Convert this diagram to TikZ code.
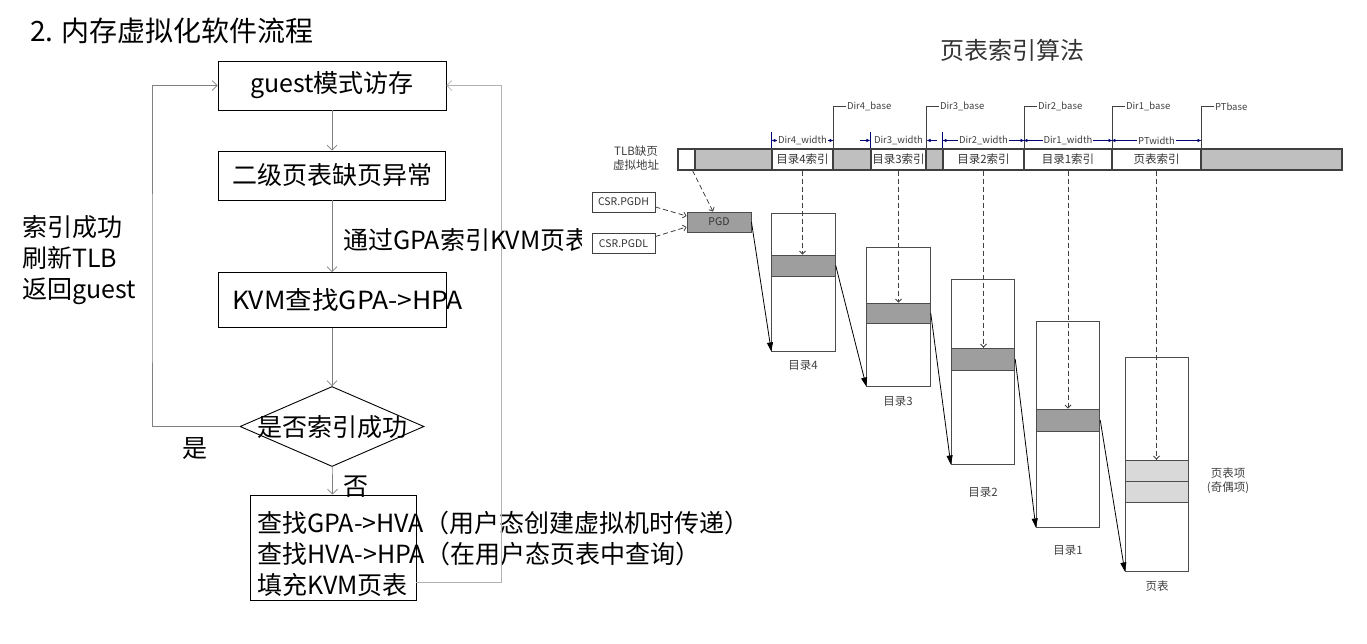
\documentclass[tikz,border=0pt]{standalone}
\usepackage{fontspec}
\setmainfont{Noto Sans CJK SC}
\usetikzlibrary{arrows.meta,positioning,shapes.geometric}

\begin{document}
\begin{tikzpicture}[x=1pt,y=-1pt,
  fbox/.style={draw,line width=.9pt,inner sep=0pt,font=\fontsize{25}{30}\selectfont},
  ftxt/.style={inner sep=0pt,font=\fontsize{25}{31}\selectfont},
  fa/.style={-{Straight Barb[length=5pt,width=10pt]},draw=black!50,line width=.7pt},
  cell/.style={draw=black!75,line width=1.1pt,minimum height=21pt,inner sep=0pt,text=black!80,font=\fontsize{11.5}{13}\selectfont},
  base/.style={draw=black!75,line width=1pt},
  sm/.style={text=black!75,inner sep=1pt,font=\fontsize{9.5}{11}\selectfont},
  wid/.style={{Latex[length=4pt,width=3.5pt]}-{Latex[length=4pt,width=3.5pt]},draw=blue!45!black,line width=.6pt},
  wone/.style={-{Latex[length=4pt,width=3.5pt]},draw=blue!45!black,line width=.6pt},
  tick/.style={draw=blue!45!black,line width=.6pt},
  tbl/.style={draw=black!70,line width=.9pt,minimum width=63.5pt,inner sep=0pt},
  ent/.style={tbl,fill=black!38},
  csr/.style={draw=black!75,line width=.8pt,minimum width=63pt,minimum height=20pt,inner sep=0pt,text=black!80,font=\fontsize{10.5}{12}\selectfont},
  dsh/.style={-{Straight Barb[length=3pt,width=6pt]},draw=black!75,line width=.8pt,dash pattern=on 5pt off 3pt},
  ptr/.style={-{Triangle[length=9pt,width=6pt]},draw=black,line width=.8pt},
  lbl/.style={text=black!75,inner sep=0pt,font=\fontsize{11.5}{14}\selectfont}]
\useasboundingbox (0,0) rectangle (1367,643);

% flow on the left
\node[ftxt,anchor=west,font=\fontsize{28}{34}\selectfont] (title) at (30,31) {2. 内存虚拟化软件流程};
\node[fbox,minimum width=228pt,minimum height=49pt] (access) at (332,85.5) {guest模式访存};
\node[fbox,minimum width=227pt,minimum height=49pt] (fault) at (332,175.5) {二级页表缺页异常};
\node[fbox,minimum width=228pt,minimum height=55pt] (kvm) at (332,300) {};
\node[ftxt,anchor=west,xscale=1.06] (kvmtxt) at (232,300) {KVM查找GPA->HPA};
\node[draw,diamond,line width=.9pt,minimum width=184pt,minimum height=80pt,inner sep=0pt] (hit) at (332,426.5) {};
\node[ftxt] (hittxt) at (332,427) {是否索引成功};
\node[fbox,minimum width=166pt,minimum height=105pt] (fill) at (333,547.5) {};
\node[ftxt,anchor=west,align=left] (filltxt) at (257,554) {查找GPA->HVA（用户态创建虚拟机时传递）\\查找HVA->HPA（在用户态页表中查询）\\填充KVM页表};
\draw[fa] (access) -- (fault);
\draw[fa] (fault) -- (kvm);
\draw[fa] (kvm) -- (hit);
\draw[fa] (hit) -- (fill);
\coordinate (lft) at (152,300);
\draw[fa] (hit.west) -| (lft) |- (access.west);
\coordinate (rgt) at (501,582);
\draw[fa,draw=black!30] (fill.east |- rgt) -- (rgt) |- (access.east);
\node[ftxt] (yes) at (195,449) {是};
\node[ftxt] (no) at (356,487) {否};
\node[ftxt,anchor=west,align=left] (ok) at (22,260) {索引成功\\刷新TLB\\返回guest};
\begin{scope}
\clip (0,0) rectangle (581,643);
\node[ftxt,anchor=west] (via) at (343,240) {通过GPA索引KVM页表};
\end{scope}

% page table walk on the right
\node[ftxt,text=black!80,font=\fontsize{24}{28}\selectfont] (algo) at (1012,50) {页表索引算法};
\foreach \n/\xa/\xb/\f/\t in {v0/678/695/white/{},g1/695/772/black!25/{},c4/772/833/white/目录4索引,g2/833/871/black!25/{},c3/871/926/white/目录3索引,g3/926/943/black!25/{},c2/943/1024/white/目录2索引,c1/1024/1112/white/目录1索引,cp/1112/1201/white/页表索引,g4/1201/1342/black!25/{}}
  \node[cell,fill=\f,minimum width=\xb-\xa] (\n) at ({(\xa+\xb)/2},159.5) {\t};
\foreach \n/\t in {c4/Dir4\_base,c3/Dir3\_base,c2/Dir2\_base,c1/Dir1\_base,cp/PTbase}
  \draw[base] (\n.north east) |- ++(12,-42) node[sm,right] {\t};
\draw[wid] ([yshift=8pt]c4.north west) -- node[sm,fill=white] {Dir4\_width} ([yshift=8pt]c4.north east);
\draw[wone] ([xshift=-10pt,yshift=8pt]c3.north west) -- ([yshift=8pt]c3.north west);
\draw[wone] ([xshift=10pt,yshift=8pt]c3.north east) -- ([yshift=8pt]c3.north east);
\node[sm] (w3) at ([yshift=8pt]c3.north) {Dir3\_width};
\draw[wid] ([yshift=8pt]c2.north west) -- node[sm,fill=white] {Dir2\_width} ([yshift=8pt]c2.north east);
\draw[wid] ([yshift=8pt]c1.north west) -- node[sm,fill=white] {Dir1\_width} ([yshift=8pt]c1.north east);
\draw[wid] ([yshift=8pt]cp.north west) -- node[sm,fill=white] {PTwidth} ([yshift=8pt]cp.north east);
\foreach \n in {c4,c3,c2} \draw[tick] (\n.north west) -- ++(0,-16);

\node[lbl,align=center] (va) at (636,158.5) {TLB缺页\\虚拟地址};
\node[csr] (pgdh) at (623.5,202) {CSR.PGDH};
\node[csr] (pgdl) at (623.5,243.5) {CSR.PGDL};
\node[ent,minimum width=64pt,minimum height=20pt,text=black!80,font=\fontsize{10.5}{12}\selectfont] (pgd) at (719,222) {PGD};
\draw[dsh] ([yshift=-5pt]pgdh.east) -- ([yshift=6pt]pgd.west);
\draw[dsh] ([yshift=7pt]pgdl.east) -- ([yshift=-5pt]pgd.west);
\draw[dsh] ([xshift=-3pt]v0.south east) -- ([xshift=-6pt]pgd.north);

\node[tbl,minimum height=138pt] (d4) at (803.5,282) {};
\node[ent,minimum height=21pt] (e4) at (803.5,265.5) {};
\node[tbl,minimum height=139pt] (d3) at (898.5,316.5) {};
\node[ent,minimum height=20pt] (e3) at (898.5,313) {};
\node[tbl,minimum height=185pt] (d2) at (983,371.5) {};
\node[ent,minimum height=22pt] (e2) at (983,359) {};
\node[tbl,minimum height=206pt] (d1) at (1068,424) {};
\node[ent,minimum height=22pt] (e1) at (1068,420) {};
\node[tbl,minimum height=214pt] (ptab) at (1157,464) {};
\node[tbl,fill=black!15,minimum height=21pt] (p1) at (1157,470.5) {};
\node[tbl,fill=black!15,minimum height=21pt] (p2) at (1157,491.5) {};
\foreach \c/\e in {c4/e4,c3/e3,c2/e2,c1/e1,cp/p1} \draw[dsh] (\c.south) -- (\c.south |- \e.north);
\draw[ptr] (pgd.east) -- (d4.south west);
\foreach \e/\d in {e4/d3,e3/d2,e2/d1,e1/ptab} \draw[ptr] (\e.east) -- (\d.south west);
\node[lbl] (l4) at (803,365) {目录4};
\node[lbl] (l3) at (898,401) {目录3};
\node[lbl] (l2) at (983,492) {目录2};
\node[lbl] (l1) at (1068,550) {目录1};
\node[lbl] (lp) at (1157,586) {页表};
\node[lbl,align=center] (lpe) at (1228,481) {页表项\\(奇偶项)};
\end{tikzpicture}
\end{document}
